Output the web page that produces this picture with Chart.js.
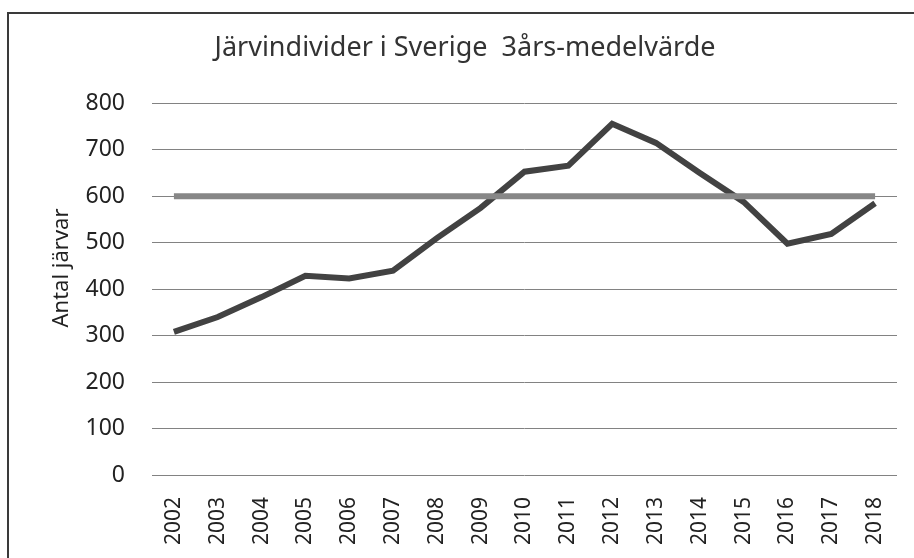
<!DOCTYPE html>
<html>
<head>
<meta charset="utf-8">
<script src="https://cdn.jsdelivr.net/npm/chart.js@4/dist/chart.umd.min.js"></script>
<style>
  html, body { margin: 0; padding: 0; background: #fff; }
  #wrap { width: 914px; height: 558px; }
</style>
</head>
<body>
<div id="wrap"><canvas id="chart" width="914" height="558"></canvas></div>
<script>
// values
const years = ['2002', '2003', '2004', '2005', '2006', '2007', '2008', '2009', '2010',
  '2011', '2012', '2013', '2014', '2015', '2016', '2017', '2018'];
const meanValues = [308, 340, 383, 429, 423, 440, 510, 575, 653, 666, 756, 715, 650, 588, 498, 519, 585];
const targetLine = [600, 600, 600, 600, 600, 600, 600, 600, 600, 600, 600, 600, 600, 600, 600, 600, 600];
const yTicks = [0, 100, 200, 300, 400, 500, 600, 700, 800];
const yTitle = 'Antal järvar';

// white page, scanned frame lines and the y axis caption
const framePlugin = {
  id: 'frame',
  afterLayout(chart) {
    // the original title sits a bit right of the canvas centre
    chart.titleBlock.left = 16;
    chart.titleBlock.right = 914;
  },
  beforeDraw(chart) {
    const ctx = chart.ctx;
    ctx.save();
    ctx.fillStyle = '#ffffff';
    ctx.fillRect(0, 0, chart.width, chart.height);
    ctx.strokeStyle = '#3a3a3a';
    ctx.lineWidth = 2;
    ctx.beginPath();
    ctx.moveTo(8, chart.height);
    ctx.lineTo(8, 13);
    ctx.lineTo(chart.width, 13);
    ctx.stroke();
    ctx.restore();
  },
  afterDraw(chart) {
    const ctx = chart.ctx;
    ctx.save();
    ctx.translate(62, 268);
    ctx.rotate(-Math.PI / 2);
    ctx.fillStyle = '#222222';
    ctx.font = "22px 'Noto Sans'";
    ctx.textAlign = 'center';
    ctx.textBaseline = 'middle';
    ctx.fillText(yTitle, 0, 0);
    ctx.restore();
  }
};

const ctx = document.getElementById('chart').getContext('2d');
const chart = new Chart(ctx, {
  type: 'line',
  data: {
    labels: years,
    datasets: [
      {
        label: '3års-medelvärde',
        data: meanValues,
        borderColor: '#424242',
        borderWidth: 6,
        pointRadius: 0,
        tension: 0,
        order: 2
      },
      {
        label: '600',
        data: targetLine,
        borderColor: '#878787',
        borderWidth: 6,
        pointRadius: 0,
        tension: 0,
        order: 1
      }
    ]
  },
  plugins: [framePlugin],
  options: {
    responsive: false,
    animation: false,
    layout: { padding: { left: 0, right: 17, top: 0, bottom: 0 } },
    plugins: {
      legend: { display: false },
      tooltip: { enabled: false },
      title: {
        display: true,
        text: 'Järvindivider i Sverige  3års-medelvärde',
        color: '#333333',
        font: { family: "'Noto Sans'", size: 27, weight: 'normal' },
        padding: { top: 32, bottom: 39 }
      }
    },
    scales: {
      x: {
        offset: true,
        grid: { display: false, drawTicks: false },
        border: { display: false },
        ticks: {
          minRotation: 90,
          maxRotation: 90,
          padding: 22,
          color: '#222222',
          font: { family: "'Noto Sans'", size: 21 }
        },
        afterFit(scale) {
          scale.height = 83;
          scale.paddingLeft = 0;
          scale.paddingRight = 0;
        }
      },
      y: {
        min: 0,
        max: 800,
        afterBuildTicks(scale) { scale.ticks = yTicks.map(v => ({ value: v })); },
        grid: { color: '#828282', lineWidth: 1, drawTicks: false },
        border: { display: false },
        ticks: {
          padding: 27,
          color: '#222222',
          font: { family: "'Noto Sans'", size: 23 }
        },
        afterFit(scale) { scale.width = 152; }
      }
    }
  }
});
</script>
</body>
</html>
